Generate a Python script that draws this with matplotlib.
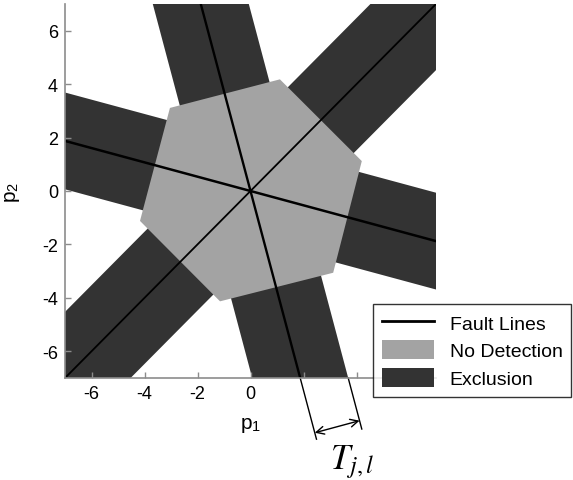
import numpy as np
import matplotlib

matplotlib.use("Agg")
import matplotlib.pyplot as plt
from matplotlib.patches import Patch, Polygon
from matplotlib.lines import Line2D

plt.rcParams["font.family"] = ["Liberation Sans", "DejaVu Sans"]
plt.rcParams["mathtext.fontset"] = "stix"
plt.rcParams["axes.unicode_minus"] = False

# fault line directions (deg) and exclusion band half-width
fault_angles = [45, 105, 165]
fault_widths = [1.3, 1.7, 1.8]
band_halfwidth = 1.75

# no-detection region, vertices
nodetect_x = [4.20, 1.11, -3.04, -4.17, -1.15, 3.12]
nodetect_y = [1.12, 4.18, 3.11, -1.12, -4.13, -3.06]

xticks = [-6, -4, -2, 0, 2, 4, 6]
xtick_labels = ["-6", "-4", "-2", "0", "", "", ""]
yticks = [-6, -4, -2, 0, 2, 4, 6]

dark = "#333333"
light = "#a3a3a3"
spine_gray = "#8c8c8c"

fig = plt.figure(figsize=(5.73, 4.81), dpi=100)
ax = fig.add_axes([65 / 573, 1 - 379 / 481, 371 / 573, 374 / 481])

L = 30.0
for ang in fault_angles:
    d = np.array([np.cos(np.radians(ang)), np.sin(np.radians(ang))])
    n = np.array([-d[1], d[0]])
    corners = [L * d + band_halfwidth * n, -L * d + band_halfwidth * n,
               -L * d - band_halfwidth * n, L * d - band_halfwidth * n]
    ax.add_patch(Polygon(corners, closed=True, facecolor=dark, edgecolor="none", zorder=1))

ax.add_patch(Polygon(np.column_stack([nodetect_x, nodetect_y]), closed=True,
                     facecolor=light, edgecolor="none", zorder=2))

for ang, lw in zip(fault_angles, fault_widths):
    d = np.array([np.cos(np.radians(ang)), np.sin(np.radians(ang))])
    ax.plot([-L * d[0], L * d[0]], [-L * d[1], L * d[1]], color="black", lw=lw, zorder=3)

ax.set_xlim(-7, 7)
ax.set_ylim(-7, 7)
ax.set_xticks(xticks)
ax.set_xticklabels(xtick_labels)
ax.set_yticks(yticks)
ax.tick_params(direction="in", length=4, width=1, color=spine_gray, labelsize=13, pad=5)
for side in ["top", "right"]:
    ax.spines[side].set_visible(False)
for side in ["left", "bottom"]:
    ax.spines[side].set_color(spine_gray)
    ax.spines[side].set_linewidth(1.2)
    ax.spines[side].set_zorder(4)

ax.set_xlabel(r"p$_\mathregular{1}$", fontsize=15)
ax.set_ylabel(r"p$_\mathregular{2}$", fontsize=15)
ax.xaxis.set_label_coords(0.5, -0.1)
ax.yaxis.set_label_coords(-0.115, 0.5)

# width annotation below the axes, along the 105 deg band
ang = np.radians(fault_angles[1])
d = np.array([np.cos(ang), np.sin(ang)])
n = np.array([np.sin(ang), -np.cos(ang)])
t0 = -7 / d[1]
t1 = -9.29 / d[1]
p0, p1 = t0 * d, t1 * d
e0 = (-7 - band_halfwidth * n[1]) / d[1] * d + band_halfwidth * n
e1 = (-8.91 - band_halfwidth * n[1]) / d[1] * d + band_halfwidth * n
ax.plot([p0[0], p1[0]], [p0[1], p1[1]], color="black", lw=1, clip_on=False)
ax.plot([e0[0], e1[0]], [e0[1], e1[1]], color="black", lw=1, clip_on=False)
a0 = (-9.05 / d[1]) * d
a1 = a0 + band_halfwidth * n
ax.annotate("", xy=a1, xytext=a0, annotation_clip=False,
            arrowprops=dict(arrowstyle="<->", color="black", lw=1, shrinkA=0, shrinkB=0,
                            mutation_scale=14))
ax.text(3.85, -9.4, r"$T_{j,l}$", fontsize=25, ha="center", va="top")

handles = [
    Line2D([], [], color="black", lw=2),
    Patch(facecolor=light, edgecolor="none"),
    Patch(facecolor=dark, edgecolor="none"),
]
leg = fig.legend(handles, ["Fault Lines", "No Detection", "Exclusion"],
                 loc="upper left", bbox_to_anchor=(373 / 573, 1 - 305 / 481),
                 fontsize=14, frameon=True, fancybox=False, edgecolor="black",
                 handlelength=2.7, handleheight=1.1, labelspacing=0.4,
                 borderpad=0.45, handletextpad=0.8, borderaxespad=0)
leg.get_frame().set_linewidth(1)

fig.savefig("out.png", dpi=100)
